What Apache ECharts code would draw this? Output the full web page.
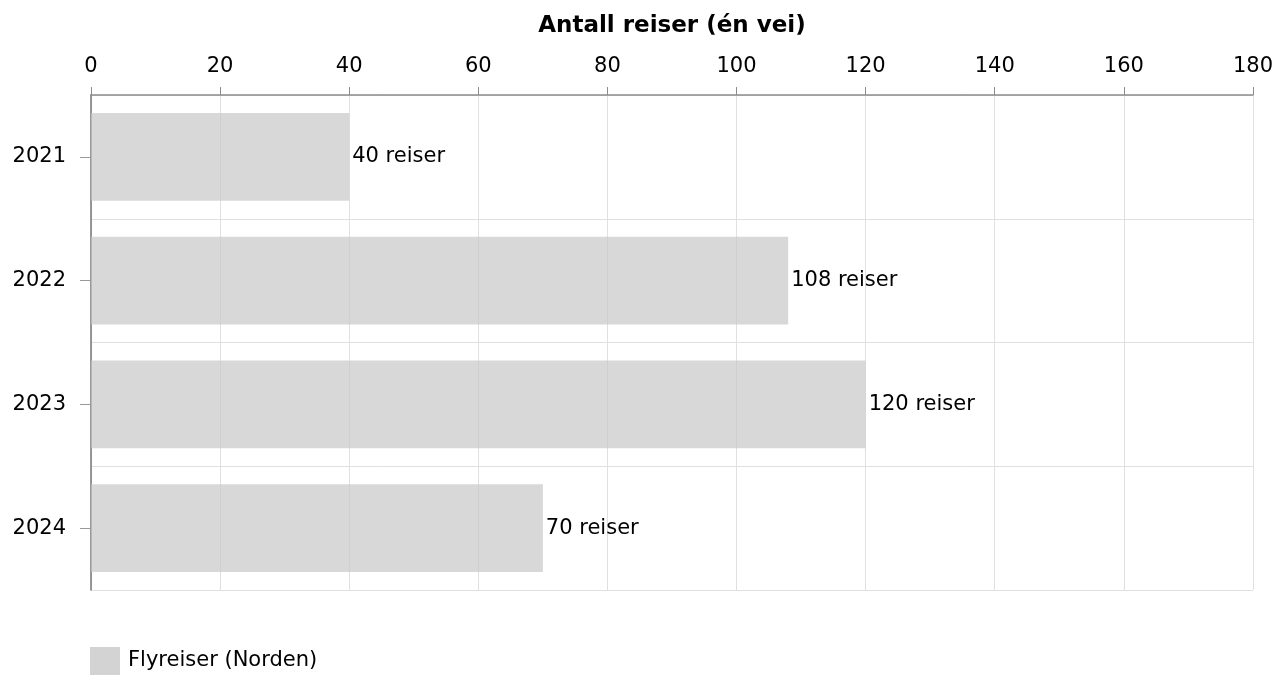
<!DOCTYPE html>
<html><head><meta charset="utf-8">
<script src="https://cdn.jsdelivr.net/npm/echarts@6/dist/echarts.min.js"></script>
<style>html,body{margin:0;padding:0;background:#fff}#c{width:1276px;height:675px}</style>
</head><body><div id="c"></div>
<script>
const categories = ['2021', '2022', '2023', '2024'];
const values = [40, 108, 120, 70];
const seriesName = 'Flyreiser (Norden)';
const axisTitle = 'Antall reiser (én vei)';
const labelSuffix = ' reiser';

const FONT = 'DejaVu Sans, Verdana, sans-serif';
const chart = echarts.init(document.getElementById('c'), null, {renderer: 'canvas'});
chart.setOption({
  animation: false,
  textStyle: {fontFamily: FONT},
  grid: {left: 91, right: 22, top: 95, bottom: 85, containLabel: false},
  legend: {
    left: 85, top: 642, itemWidth: 30, itemHeight: 28, itemGap: 10,
    icon: 'rect',
    textStyle: {fontFamily: FONT, fontSize: 21, color: '#000', padding: [3, 0, 0, 3]},
    data: [{name: seriesName, itemStyle: {color: '#d3d3d3', opacity: 1}}]
  },
  xAxis: {
    type: 'value', position: 'top', min: 0, max: 180, interval: 20,
    name: axisTitle, nameLocation: 'middle', nameGap: 57,
    nameTextStyle: {fontFamily: FONT, fontSize: 23, fontWeight: 'bold', color: '#000'},
    axisLine: {show: true, lineStyle: {color: '#8c8c8c', width: 1.5}},
    axisTick: {show: true, length: 8, lineStyle: {color: '#8c8c8c'}},
    axisLabel: {fontFamily: FONT, fontSize: 21, color: '#000', margin: 18},
    splitLine: {show: true, lineStyle: {color: '#e0e0e0', width: 1}}
  },
  yAxis: {
    type: 'category', data: categories, inverse: true,
    axisLine: {show: true, lineStyle: {color: '#777', width: 1.5}},
    axisTick: {show: true, alignWithLabel: true, length: 11, lineStyle: {color: '#999'}},
    axisLabel: {fontFamily: FONT, fontSize: 21, color: '#000', margin: 25},
    splitLine: {show: true, lineStyle: {color: '#e0e0e0', width: 1}}
  },
  series: [{
    type: 'bar', name: seriesName, data: values, barWidth: '71%',
    itemStyle: {color: 'rgba(200,200,200,0.7)'},
    label: {show: true, position: 'right', distance: 3, fontFamily: FONT, fontSize: 21, color: '#000',
      formatter: p => p.value + labelSuffix}
  }]
});
</script></body></html>
